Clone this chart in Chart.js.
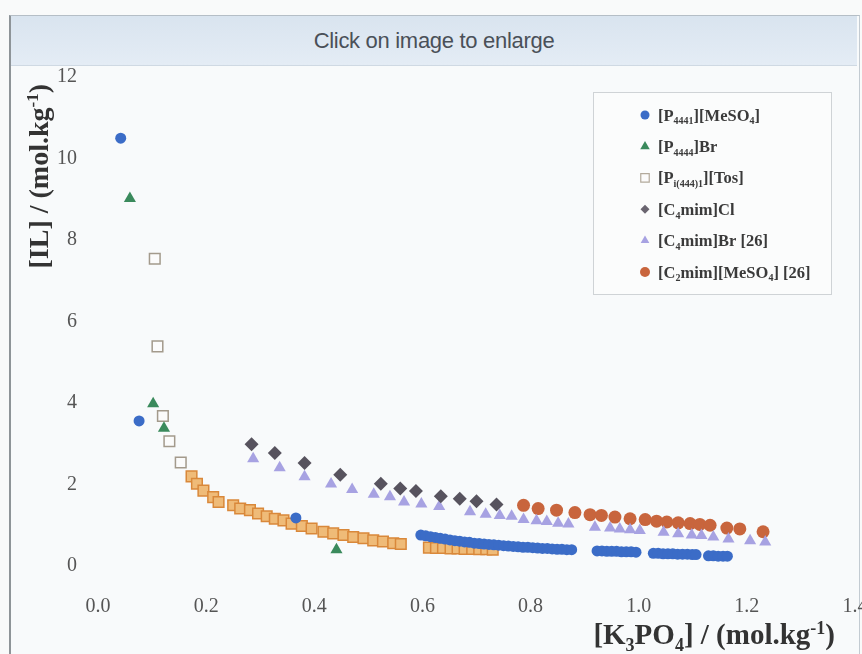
<!DOCTYPE html>
<html><head><meta charset="utf-8">
<script src="https://cdn.jsdelivr.net/npm/chart.js@4.4.1/dist/chart.umd.min.js"></script>
<style>
html,body{margin:0;padding:0;width:862px;height:654px;overflow:hidden;background:#f9fafa;}
#frame{position:absolute;left:9px;top:15px;width:848px;height:650px;border-left:2px solid #8e9498;border-top:1px solid #b5bec6;border-right:1px solid #c3cbd2;background:#f8fafb;}
#header{position:absolute;z-index:2;left:11px;top:16px;width:846px;height:49px;background:linear-gradient(#d9e4ef,#e4ecf5);border-bottom:1px solid #cfd9e3;font:22px "Liberation Sans",Arial,sans-serif;color:#4a5058;text-align:center;line-height:50px;letter-spacing:-0.3px;}
#wrap{position:absolute;z-index:1;left:11px;top:46px;width:900px;height:608px;}
</style></head><body>
<div id="frame"></div>
<div id="wrap"><canvas id="c" width="900" height="608"></canvas></div>
<div id="header">Click on image to enlarge</div>
<script>
// ---- axis / labels ----
const xTitle = '[K_{3}PO_{4}] / (mol.kg^{-1})';
const yTitle = '[IL] / (mol.kg^{-1})';
const xTicks = [0.0, 0.2, 0.4, 0.6, 0.8, 1.0, 1.2, 1.4];
const yTicks = [0, 2, 4, 6, 8, 10, 12];
const seriesNames = ['[P_{4441}][MeSO_{4}]', '[P_{4444}]Br', '[P_{i(444)1}][Tos]', '[C_{4}mim]Cl', '[C_{4}mim]Br [26]', '[C_{2}mim][MeSO_{4}] [26]'];

// ---- series values ----
const p4441_x = [0.042, 0.076, 0.366,
  0.597, 0.606, 0.615, 0.624, 0.633, 0.642, 0.651, 0.660, 0.669, 0.678, 0.687, 0.696, 0.705, 0.714, 0.723, 0.732, 0.741, 0.750, 0.759, 0.768, 0.777, 0.786, 0.795, 0.804, 0.813, 0.822, 0.831, 0.840, 0.849, 0.858, 0.867, 0.876,
  0.923, 0.932, 0.941, 0.950, 0.959, 0.968, 0.977, 0.986, 0.995,
  1.027, 1.036, 1.045, 1.054, 1.063, 1.072, 1.081, 1.090, 1.099, 1.106,
  1.129, 1.138, 1.147, 1.156, 1.164];
const p4441_y = [10.5, 3.56, 1.18,
  0.76, 0.74, 0.72, 0.70, 0.68, 0.66, 0.64, 0.62, 0.61, 0.59, 0.58, 0.56, 0.55, 0.54, 0.53, 0.52, 0.51, 0.50, 0.49, 0.48, 0.47, 0.46, 0.46, 0.45, 0.44, 0.43, 0.43, 0.42, 0.41, 0.41, 0.40, 0.40,
  0.37, 0.37, 0.36, 0.36, 0.36, 0.35, 0.35, 0.35, 0.34,
  0.31, 0.31, 0.30, 0.30, 0.30, 0.29, 0.29, 0.29, 0.28, 0.28,
  0.25, 0.25, 0.24, 0.24, 0.24];

const p4444_x = [0.059, 0.102, 0.122, 0.441];
const p4444_y = [9.02, 3.98, 3.38, 0.40];

const tos_x = [0.105, 0.110, 0.120, 0.132, 0.153, 0.173, 0.183, 0.195, 0.213, 0.223, 0.250, 0.263, 0.281, 0.296, 0.312, 0.327, 0.343, 0.358, 0.377, 0.395, 0.417, 0.435, 0.454, 0.472, 0.491, 0.509, 0.527, 0.546, 0.560,
  0.612, 0.625, 0.638, 0.652, 0.665, 0.678, 0.692, 0.705, 0.718, 0.730];
const tos_y = [7.54, 5.39, 3.68, 3.06, 2.54, 2.20, 2.02, 1.85, 1.69, 1.57, 1.49, 1.41, 1.37, 1.29, 1.22, 1.16, 1.12, 1.04, 0.98, 0.92, 0.84, 0.80, 0.76, 0.71, 0.68, 0.63, 0.60, 0.56, 0.54,
  0.45, 0.44, 0.44, 0.43, 0.43, 0.42, 0.42, 0.41, 0.41, 0.40];

const c4Cl_x = [0.284, 0.327, 0.382, 0.448, 0.523, 0.559, 0.588, 0.634, 0.669, 0.700, 0.737];
const c4Cl_y = [2.99, 2.77, 2.53, 2.24, 2.02, 1.90, 1.84, 1.71, 1.65, 1.59, 1.51];

const c4Br_x = [0.287, 0.336, 0.382, 0.431, 0.470, 0.510, 0.540, 0.566, 0.598, 0.631, 0.688, 0.717, 0.743, 0.765, 0.787, 0.811, 0.830, 0.851, 0.870, 0.919, 0.947, 0.965, 0.984, 1.002, 1.046, 1.073, 1.098, 1.116, 1.138, 1.166, 1.206, 1.234];
const c4Br_y = [2.63, 2.41, 2.19, 2.01, 1.88, 1.76, 1.70, 1.57, 1.52, 1.46, 1.33, 1.27, 1.24, 1.22, 1.14, 1.11, 1.09, 1.05, 1.03, 0.95, 0.93, 0.91, 0.89, 0.87, 0.83, 0.79, 0.76, 0.75, 0.71, 0.66, 0.62, 0.59];

const c2MeSO4_x = [0.787, 0.814, 0.848, 0.882, 0.910, 0.931, 0.956, 0.984, 1.012, 1.033, 1.052, 1.073, 1.095, 1.113, 1.132, 1.163, 1.187, 1.230];
const c2MeSO4_y = [1.49, 1.41, 1.37, 1.31, 1.26, 1.24, 1.20, 1.16, 1.14, 1.10, 1.08, 1.06, 1.04, 1.02, 1.00, 0.93, 0.91, 0.84];

// ---- helpers ----
const SERIF = '"Liberation Serif","Times New Roman",serif';
function pts(xs, ys) { return xs.map((x, i) => ({x: x, y: ys[i]})); }
function plain(s) { return s.replace(/[_^]\{([^}]*)\}/g, '$1'); }
function parseRich(str) {
  const parts = []; let i = 0;
  while (i < str.length) {
    if ((str[i] === '_' || str[i] === '^') && str[i + 1] === '{') {
      const j = str.indexOf('}', i);
      parts.push({t: str.slice(i + 2, j), k: str[i]}); i = j + 1;
    } else {
      let j = i;
      while (j < str.length && !((str[j] === '_' || str[j] === '^') && str[j + 1] === '{')) j++;
      parts.push({t: str.slice(i, j), k: ''}); i = j;
    }
  }
  return parts;
}
function drawRich(ctx, str, x, y, size, align, color) {
  const parts = parseRich(str);
  const f = k => 'bold ' + (k ? Math.round(size * 0.62) : size) + 'px ' + SERIF;
  let total = 0;
  parts.forEach(p => { ctx.font = f(p.k); p.w = ctx.measureText(p.t).width; total += p.w; });
  let cx = align === 'right' ? x - total : (align === 'center' ? x - total / 2 : x);
  ctx.textAlign = 'left'; ctx.textBaseline = 'alphabetic'; ctx.fillStyle = color;
  parts.forEach(p => {
    ctx.font = f(p.k);
    const dy = p.k === '_' ? size * 0.24 : (p.k === '^' ? -size * 0.36 : 0);
    ctx.fillText(p.t, cx, y + dy); cx += p.w;
  });
  return total;
}
function marker(ctx, style, x, y, r, fill, stroke, bw) {
  ctx.beginPath();
  if (style === 'circle') ctx.arc(x, y, r, 0, Math.PI * 2);
  else if (style === 'triangle') {
    for (let k = 0; k < 3; k++) { const a = k * 2 * Math.PI / 3; const px = x + Math.sin(a) * r, py = y - Math.cos(a) * r; k ? ctx.lineTo(px, py) : ctx.moveTo(px, py); }
    ctx.closePath();
  } else if (style === 'rect') { const s = r * Math.SQRT1_2; ctx.rect(x - s, y - s, 2 * s, 2 * s); }
  else if (style === 'rectRot') { ctx.moveTo(x, y - r); ctx.lineTo(x + r, y); ctx.lineTo(x, y + r); ctx.lineTo(x - r, y); ctx.closePath(); }
  ctx.fillStyle = fill; ctx.fill();
  if (bw) { ctx.lineWidth = bw; ctx.strokeStyle = stroke; ctx.stroke(); }
}

const tosFill = c => (c.raw && c.raw.x >= 0.16) ? '#efbb78' : '#fbfbfb';
const tosBorder = c => (c.raw && c.raw.x >= 0.16) ? '#d9883a' : '#a39a8c';

const datasets = [
  {label: plain(seriesNames[0]), data: pts(p4441_x, p4441_y), pointStyle: 'circle', pointRadius: 5.5, backgroundColor: '#3b6cc7', borderColor: '#3b6cc7', borderWidth: 0, legendStyle: {s: 'circle', r: 4.5, f: '#3b6cc7'}},
  {label: plain(seriesNames[1]), data: pts(p4444_x, p4444_y), pointStyle: 'triangle', pointRadius: 7, backgroundColor: '#3a8a5c', borderColor: '#3a8a5c', borderWidth: 0, legendStyle: {s: 'triangle', r: 5.5, f: '#3a8a5c'}},
  {label: plain(seriesNames[2]), data: pts(tos_x, tos_y), pointStyle: 'rect', pointRadius: 7.5, backgroundColor: tosFill, borderColor: tosBorder, borderWidth: 1.5, legendStyle: {s: 'rect', r: 6, f: '#fbfbfb', b: '#b3aa9c'}},
  {label: plain(seriesNames[3]), data: pts(c4Cl_x, c4Cl_y), pointStyle: 'rectRot', pointRadius: 7, backgroundColor: '#57535e', borderColor: '#57535e', borderWidth: 0, legendStyle: {s: 'rectRot', r: 4.5, f: '#6a6570'}},
  {label: plain(seriesNames[4]), data: pts(c4Br_x, c4Br_y), pointStyle: 'triangle', pointRadius: 7, backgroundColor: '#a7a2e2', borderColor: '#a7a2e2', borderWidth: 0, legendStyle: {s: 'triangle', r: 5, f: '#a7a2e2'}},
  {label: plain(seriesNames[5]), data: pts(c2MeSO4_x, c2MeSO4_y), pointStyle: 'circle', pointRadius: 6.5, backgroundColor: '#c8653d', borderColor: '#c8653d', borderWidth: 0, legendStyle: {s: 'circle', r: 5, f: '#c8653d'}}
];

const decorPlugin = {
  id: 'decor',
  afterDraw(chart) {
    const ctx = chart.ctx, a = chart.chartArea;
    ctx.save();
    // legend box
    const lx = a.left + 495, ly = a.top + 15, lw = 238, lh = 202;
    ctx.fillStyle = '#fbfcfc'; ctx.fillRect(lx, ly, lw, lh);
    ctx.strokeStyle = '#cfd3d6'; ctx.lineWidth = 1; ctx.strokeRect(lx + 0.5, ly + 0.5, lw, lh);
    chart.data.datasets.forEach((ds, i) => {
      const yy = ly + 23 + i * 31.4;
      const st = ds.legendStyle;
      marker(ctx, st.s, lx + 52, yy, st.r, st.f, st.b, st.b ? 1.2 : 0);
      drawRich(ctx, seriesNames[i], lx + 65, yy + 5.5, 16.5, 'left', '#3a3a3a');
    });
    // axis titles
    drawRich(ctx, xTitle, a.left + 737, a.bottom + 78, 29, 'right', '#333');
    ctx.save();
    ctx.translate(37, a.top + 7);
    ctx.rotate(-Math.PI / 2);
    drawRich(ctx, yTitle, 0, 0, 28, 'right', '#333');
    ctx.restore();
    ctx.restore();
  }
};

new Chart(document.getElementById('c'), {
  type: 'scatter',
  data: {datasets: datasets},
  plugins: [decorPlugin],
  options: {
    responsive: false, animation: false, devicePixelRatio: 1,
    layout: {padding: {top: 8, right: 56, left: 0, bottom: 0}},
    plugins: {legend: {display: false}, tooltip: {enabled: false}},
    scales: {
      x: {
        type: 'linear', min: xTicks[0], max: xTicks[xTicks.length - 1],
        afterBuildTicks: s => { s.ticks = xTicks.map(v => ({value: v})); },
        afterFit: s => { s.height = 88; },
        grid: {display: false, drawTicks: false}, border: {display: false},
        ticks: {padding: 31, color: '#555', font: {family: SERIF, size: 20, lineHeight: 1}, callback: v => v.toFixed(1), maxRotation: 0, autoSkip: false}
      },
      y: {
        type: 'linear', min: yTicks[0], max: yTicks[yTicks.length - 1],
        afterBuildTicks: s => { s.ticks = yTicks.map(v => ({value: v})); },
        afterFit: s => { s.width = 87; },
        grid: {display: false, drawTicks: false}, border: {display: false},
        ticks: {padding: 21, color: '#555', font: {family: SERIF, size: 20, lineHeight: 1}, callback: v => String(v)}
      }
    }
  }
});
</script></body></html>
